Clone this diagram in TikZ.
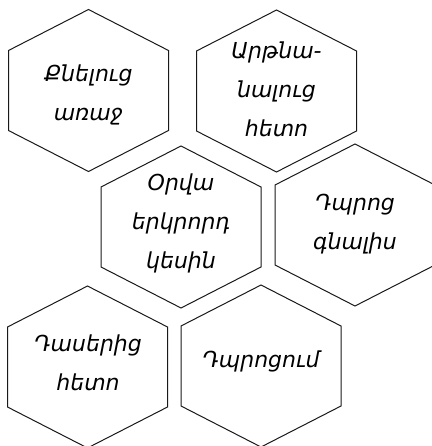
\documentclass[tikz,border=0pt]{standalone}
\usepackage{fontspec}
\newfontfamily\armfont[Script=Armenian]{DejaVu Sans}
\tikzset{
  hexlabel/.style={align=center,font=\armfont\itshape\fontsize{22}{39}\selectfont},
  hexline/.style={line width=1pt,draw=black!90},
}
\begin{document}
\begin{tikzpicture}[x=1pt,y=-1pt]
\useasboundingbox (0,0) rectangle (431,446);
\node[hexlabel] (beforesleep) at (88.5,95) {Քնելուց\\առաջ};
\node[hexlabel] (afterwake) at (276.5,89) {Արթնա-\\նալուց\\հետո};
\node[hexlabel] (afternoon) at (181,223) {Օրվա\\երկրորդ\\կեսին};
\node[hexlabel] (toschool) at (355,224) {Դպրոց\\գնալիս};
\node[hexlabel] (afterclass) at (88,363) {Դասերից\\հետո};
\node[hexlabel] (atschool) at (261,361) {Դպրոցում};
% hexagons
\draw[hexline] (88.5,90.5) ++(0,-81) -- ++(80,41) -- ++(0,80) -- ++(-80,41) -- ++(-80,-41) -- ++(0,-80) -- cycle;
\draw[hexline] (276.5,91) ++(0,-81) -- ++(80,41) -- ++(0,80) -- ++(-80,41) -- ++(-80,-41) -- ++(0,-80) -- cycle;
\draw[hexline] (181,227) ++(0,-81) -- ++(80,41) -- ++(0,80) -- ++(-80,41) -- ++(-80,-41) -- ++(0,-80) -- cycle;
\draw[hexline] (355,225) ++(0,-81) -- ++(80,41) -- ++(0,80) -- ++(-80,41) -- ++(-80,-41) -- ++(0,-80) -- cycle;
\draw[hexline] (87.5,367) ++(0,-81) -- ++(80,41) -- ++(0,80) -- ++(-80,41) -- ++(-80,-41) -- ++(0,-80) -- cycle;
\draw[hexline] (261,366) ++(0,-81) -- ++(80,41) -- ++(0,80) -- ++(-80,41) -- ++(-80,-41) -- ++(0,-80) -- cycle;
\end{tikzpicture}
\end{document}
